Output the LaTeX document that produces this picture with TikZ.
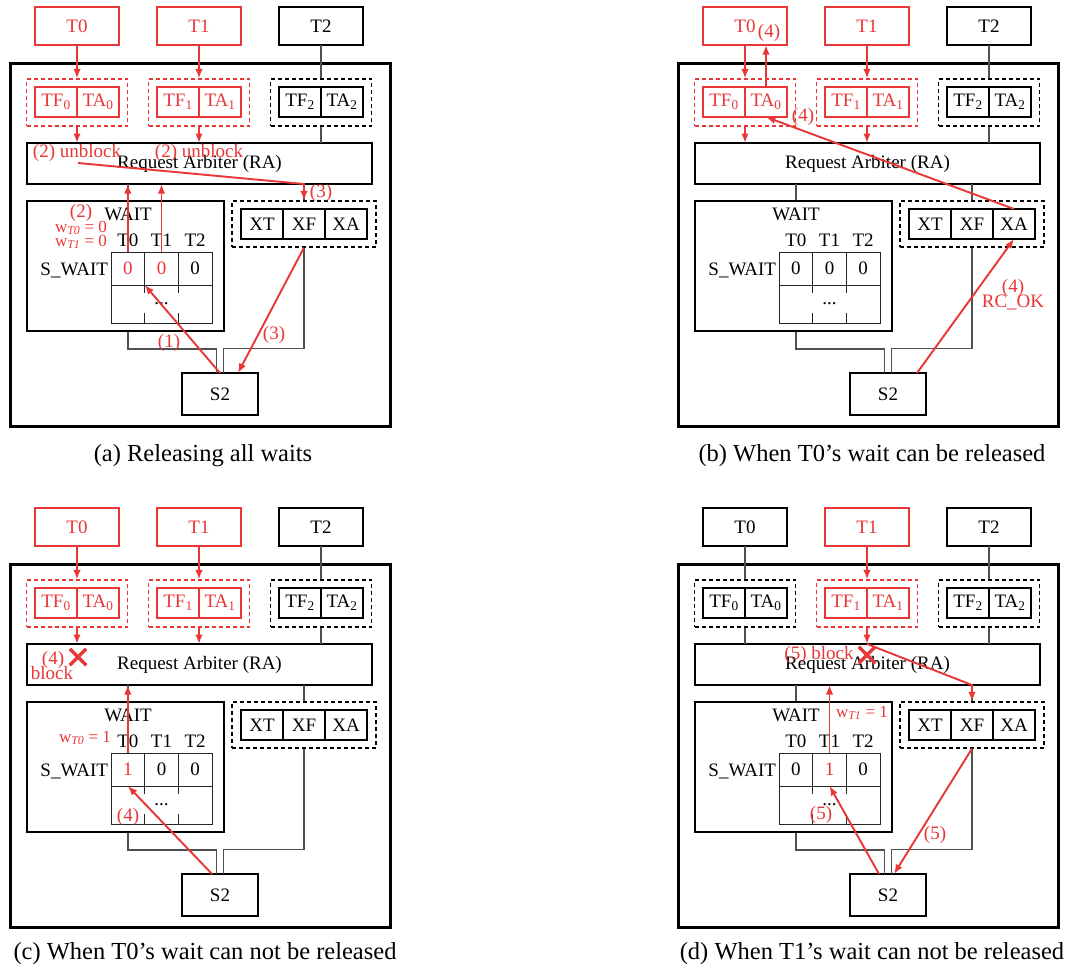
\documentclass[tikz,border=0pt]{standalone}
\usepackage{fontspec}
\setmainfont{Liberation Serif}
\usetikzlibrary{arrows.meta,shapes.misc}
\definecolor{myred}{RGB}{233,54,54}
\definecolor{lgray}{RGB}{80,80,80}
\newcommand{\myfs}[1]{\fontsize{#1}{#1}\selectfont}
\tikzset{
  txt/.style={inner sep=0pt, outer sep=0pt, font=\myfs{19}},
  hot/.style={draw=myred, text=myred},
  cold/.style={draw=black, text=black},
  tbox/.style={txt, draw, line width=2pt, minimum width=84pt, minimum height=38pt},
  outerbox/.style={draw, line width=3.5pt, minimum width=380pt, minimum height=363pt, inner sep=0pt},
  cont/.style={draw, line width=1.1pt, dash pattern=on 4pt off 3pt, minimum width=101pt, minimum height=47pt, inner sep=0pt},
  cell/.style={txt, draw, line width=2pt, minimum width=42pt, minimum height=30pt},
  rabox/.style={txt, draw, line width=2pt, minimum width=345pt, minimum height=41pt},
  waitbox/.style={draw, line width=2pt, minimum width=197pt, minimum height=130pt, inner sep=0pt},
  tcell/.style={txt, draw=black!85, line width=1pt, minimum width=33.7pt, minimum height=33pt},
  tline/.style={draw=black!85, line width=1pt},
  s2box/.style={txt, draw, line width=2pt, minimum width=76pt, minimum height=42pt},
  glink/.style={draw=lgray, line width=1.1pt},
  redarr/.style={draw=myred, line width=1.9pt, -{Latex[length=9.5pt,width=7.5pt]}},
  hotlink/.style={redarr},
  coldlink/.style={glink},
  lab/.style={txt, text=myred},
  wlab/.style={txt, text=myred, font=\myfs{17}},
  redcross/.style={cross out, draw=myred, line width=3.5pt, minimum size=13pt, inner sep=0pt},
  captxt/.style={txt, font=\myfs{24.5}}
}
\newcommand{\basepanel}[6]{%
  \node[tbox,#2] (#1T0) at (77,26) {T0};
  \node[tbox,#3] (#1T1) at (199,26) {T1};
  \node[tbox,cold] (#1T2) at (321,26) {T2};
  \node[outerbox] (#1out) at (200.5,245) {};
  \node[cont,#2] (#1C0) at (77,102.5) {};
  \node[cell,#2] (#1TF0) at (56,102) {TF\textsubscript{0}};
  \node[cell,#2] (#1TA0) at (98,102) {TA\textsubscript{0}};
  \node[cont,#3] (#1C1) at (199,102.5) {};
  \node[cell,#3] (#1TF1) at (178,102) {TF\textsubscript{1}};
  \node[cell,#3] (#1TA1) at (220,102) {TA\textsubscript{1}};
  \node[cont,cold] (#1C2) at (321,102.5) {};
  \node[cell,cold] (#1TF2) at (300,102) {TF\textsubscript{2}};
  \node[cell,cold] (#1TA2) at (342,102) {TA\textsubscript{2}};
  \node[rabox] (#1RA) at (199.5,163.5) {Request Arbiter (RA)};
  \node[waitbox] (#1W) at (125.5,266) {};
  \node[txt] (#1Wl) at (128,214) {WAIT};
  \node[txt] (#1h0) at (127.85,240) {T0};
  \node[txt] (#1h1) at (161.5,240) {T1};
  \node[txt] (#1h2) at (195.15,240) {T2};
  \node[txt,anchor=east] (#1SW) at (108,270) {S\_WAIT};
  \node[tcell] (#1s0) at (127.85,268.5) {#4};
  \node[tcell] (#1s1) at (161.5,268.5) {#5};
  \node[tcell] (#1s2) at (195.15,268.5) {#6};
  \node[tcell,minimum width=101pt,minimum height=38pt] (#1low) at (161.5,304) {...};
  \draw[tline] (#1s0.south east) -- ++(0,8);
  \draw[tline] (#1s1.south east) -- ++(0,8);
  \draw[tline] (#1low.south -| #1s0.east) -- ++(0,-10);
  \draw[tline] (#1low.south -| #1s1.east) -- ++(0,-10);
  \node[cont,cold,minimum width=144pt,minimum height=46pt] (#1XC) at (304,224) {};
  \node[cell] (#1XT) at (262,224) {XT};
  \node[cell] (#1XF) at (304,224) {XF};
  \node[cell] (#1XA) at (346,224) {XA};
  \node[s2box] (#1S2) at (220,394) {S2};
  \draw[#2link] (#1T0.south) -- (#1C0.north);
  \draw[#2link] (#1C0.south) -- (#1C0.south |- #1RA.north);
  \draw[#3link] (#1T1.south) -- (#1C1.north);
  \draw[#3link] (#1C1.south) -- (#1C1.south |- #1RA.north);
  \draw[glink] (#1T2.south) -- (#1C2.north);
  \draw[glink] (#1C2.south) -- (#1C2.south |- #1RA.north);
  \draw[glink] (#1Wl |- #1RA.south) -- (#1Wl |- #1W.north);
  \draw[glink] (#1XC.north |- #1RA.south) -- (#1XC.north);
  \draw[glink] (#1Wl |- #1W.south) -- ++(0,17) -| ([xshift=-3.5pt]#1S2.north);
  \draw[glink] (#1XC.south) -- ++(0,101) -| ([xshift=3.5pt]#1S2.north);
}
\begin{document}
\begin{tikzpicture}[x=1pt,y=-1pt]
\fill[white] (0,0) rectangle (1073,969);
\useasboundingbox (0,0) rectangle (1073,969);
% ---------- (a)
\begin{scope}
  \basepanel{a}{hot}{hot}{\textcolor{myred}{0}}{\textcolor{myred}{0}}{0}
  \draw[redarr] (as0.north) -- (as0.north |- aRA.south);
  \draw[redarr] (as1.north) -- (as1.north |- aRA.south);
  \coordinate (aU) at (78,163);
  \draw[redarr] (aU) -- (aXC.north |- aRA.south) -- (aXC.north);
  \draw[redarr] (aS2.north) -- (as0.south east);
  \draw[redarr] (aXC.south) -- ([xshift=18pt]aS2.north);
  \node[lab] (aub0) at (77,153) {(2) unblock};
  \node[lab] (aub1) at (199,153) {(2) unblock};
  \node[lab] (a3a) at (321,193) {(3)};
  \node[lab] (a2) at (81,213) {(2)};
  \node[wlab] (aw0) at (81,228) {w\textsubscript{\textit{T0}} = 0};
  \node[wlab] (aw1) at (81,242) {w\textsubscript{\textit{T1}} = 0};
  \node[lab] (a1) at (169,343) {(1)};
  \node[lab] (a3b) at (274,335) {(3)};
  \node[captxt] (capa) at (203,456) {(a) Releasing all waits};
\end{scope}
% ---------- (b)
\begin{scope}[shift={(668,0)}]
  \basepanel{b}{hot}{hot}{0}{0}{0}
  \draw[redarr] (bTA0.north) -- (bTA0.north |- bT0.south);
  \draw[redarr] (bXA.north) -- (bTA0.south);
  \draw[redarr] ([xshift=29pt]bS2.north) -- (bXA.south);
  \node[lab] (b4a) at (101,33) {(4)};
  \node[lab] (b4b) at (135,117) {(4)};
  \node[lab] (b4c) at (345,288) {(4)};
  \node[lab] (brc) at (345,302) {RC\_OK};
  \node[captxt] (capb) at (204,456) {(b) When T0's wait can be released};
\end{scope}
% ---------- (c)
\begin{scope}[shift={(0,501)}]
  \basepanel{c}{hot}{hot}{\textcolor{myred}{1}}{0}{0}
  \node[redcross] (cX) at (78,156) {};
  \node[lab] (c4) at (53,159) {(4)};
  \node[lab] (cblk) at (52,172) {block};
  \draw[redarr] (cs0.north) -- (cs0.north |- cRA.south);
  \node[wlab] (cw) at (85,237) {w\textsubscript{\textit{T0}} = 1};
  \draw[redarr] ([xshift=-8pt]cS2.north) -- (cs0.south);
  \node[lab] (c4b) at (128,316) {(4)};
  \node[captxt] (capc) at (205,453) {(c) When T0's wait can not be released};
\end{scope}
% ---------- (d)
\begin{scope}[shift={(668,501)}]
  \basepanel{d}{cold}{hot}{0}{\textcolor{myred}{1}}{0}
  \draw[redarr] (dC1.south |- dRA.north) -- (dXC.north |- dRA.south) -- (dXC.north);
  \node[redcross] (dX) at (199,154) {};
  \node[lab] (d5) at (151,154) {(5) block};
  \draw[redarr] (ds1.north) -- (ds1.north |- dRA.south);
  \node[wlab] (dw) at (194,212) {w\textsubscript{\textit{T1}} = 1};
  \draw[redarr] ([xshift=-9pt]dS2.north) -- (ds1.south);
  \node[lab] (d5b) at (153,314) {(5)};
  \draw[redarr] (dXC.south) -- ([xshift=6pt]dS2.north);
  \node[lab] (d5c) at (267,334) {(5)};
  \node[captxt] (capd) at (204,453) {(d) When T1's wait can not be released};
\end{scope}
\end{tikzpicture}
\end{document}
